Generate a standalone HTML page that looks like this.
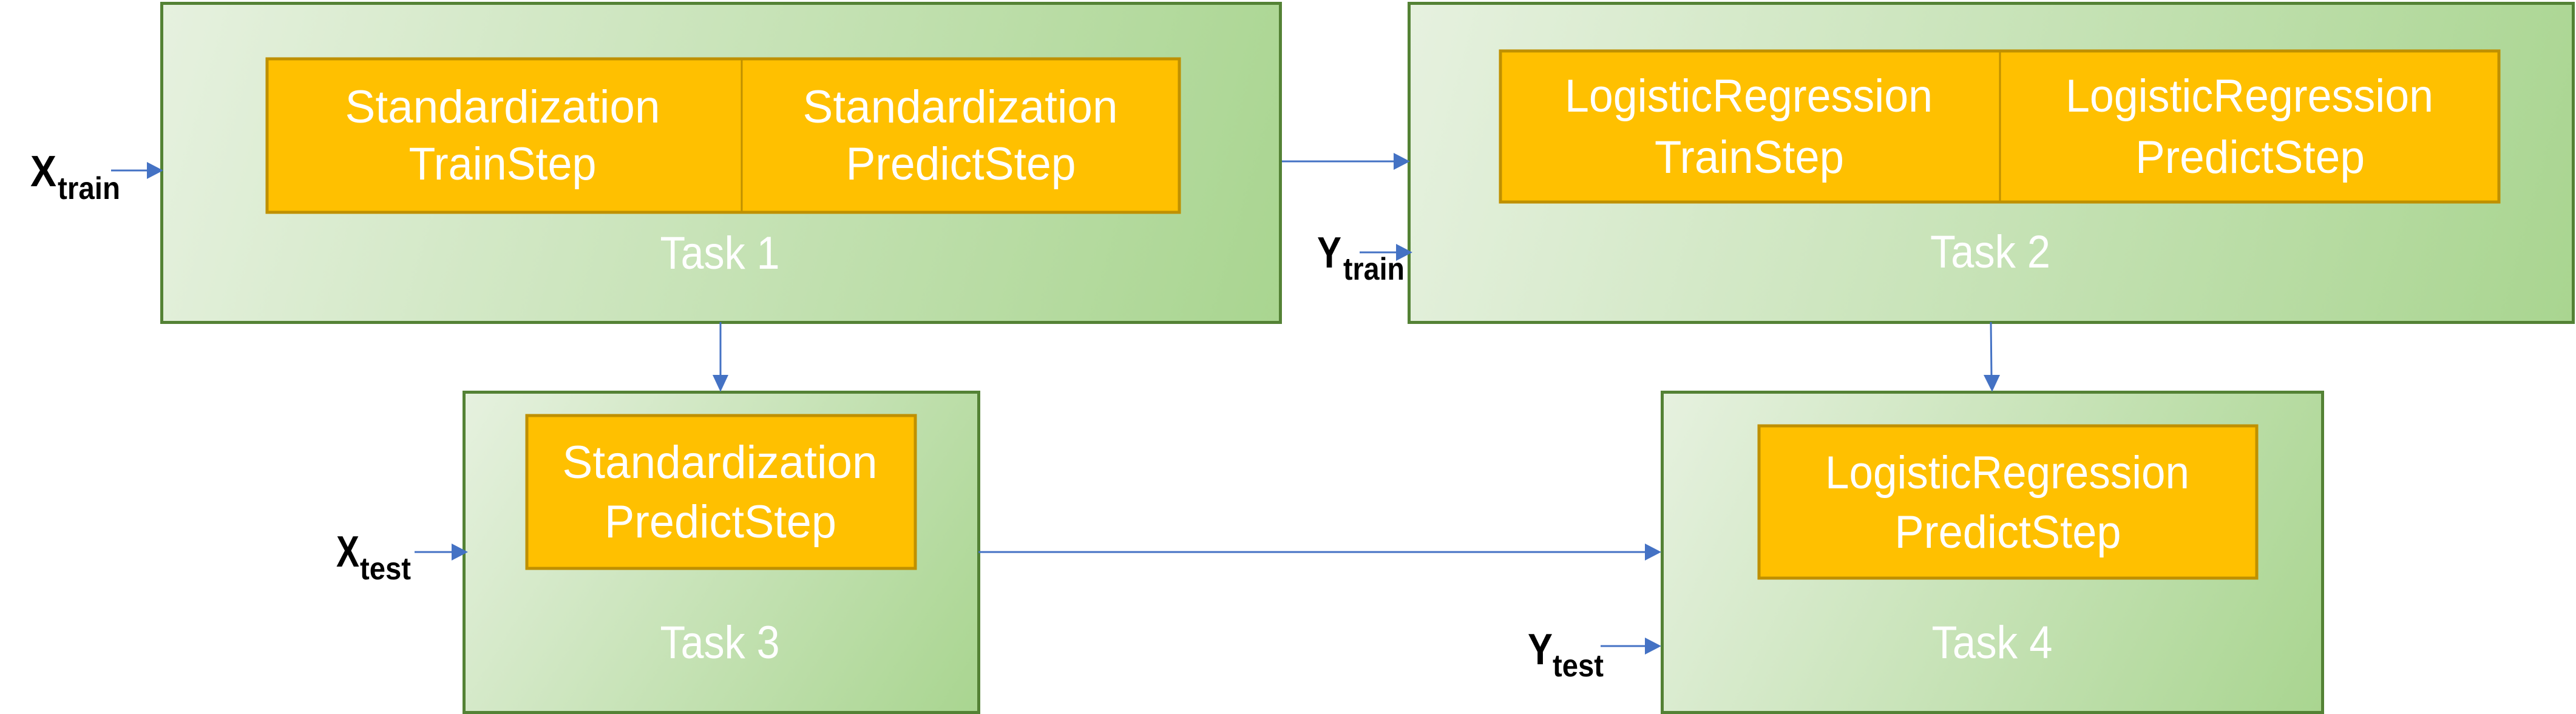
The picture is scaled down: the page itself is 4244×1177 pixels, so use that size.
<!DOCTYPE html>
<html><head><meta charset="utf-8"><style>
html,body{margin:0;padding:0;background:#fff;}
svg{display:block;}
.w{font-family:"Liberation Sans",sans-serif;font-size:76px;fill:#fff;}
.b{font-family:"Liberation Sans",sans-serif;font-weight:bold;fill:#000;}
</style></head><body>
<svg width="4244" height="1177" viewBox="0 0 4244 1177" xmlns="http://www.w3.org/2000/svg">
<defs>
<linearGradient id="g1" gradientUnits="userSpaceOnUse" x1="266" y1="5" x2="2110" y2="531">
<stop offset="0" stop-color="#e6f1df"/><stop offset="1" stop-color="#a9d590"/>
</linearGradient>
<linearGradient id="g2" gradientUnits="userSpaceOnUse" x1="2321" y1="5" x2="4240" y2="531">
<stop offset="0" stop-color="#e6f1df"/><stop offset="1" stop-color="#a9d590"/>
</linearGradient>
<linearGradient id="g3" gradientUnits="userSpaceOnUse" x1="764" y1="646" x2="1612" y2="1175">
<stop offset="0" stop-color="#e6f1df"/><stop offset="1" stop-color="#a9d590"/>
</linearGradient>
<linearGradient id="g4" gradientUnits="userSpaceOnUse" x1="2738" y1="646" x2="3826" y2="1175">
<stop offset="0" stop-color="#e6f1df"/><stop offset="1" stop-color="#a9d590"/>
</linearGradient>
</defs>
<rect x="266.5" y="5.5" width="1843" height="526" fill="url(#g1)" stroke="#548235" stroke-width="5"/>
<rect x="2321.5" y="5.5" width="1918" height="526" fill="url(#g2)" stroke="#548235" stroke-width="5"/>
<rect x="764.5" y="646.5" width="848" height="528" fill="url(#g3)" stroke="#548235" stroke-width="5"/>
<rect x="2738.5" y="646.5" width="1088" height="528" fill="url(#g4)" stroke="#548235" stroke-width="5"/>
<rect x="440" y="97" width="1503" height="253" fill="#ffc000" stroke="#bf9000" stroke-width="5"/>
<line x1="1222" y1="97" x2="1222" y2="350" stroke="#bf9000" stroke-width="3"/>
<rect x="2472" y="84" width="1645" height="249" fill="#ffc000" stroke="#bf9000" stroke-width="5"/>
<line x1="3295" y1="84" x2="3295" y2="333" stroke="#bf9000" stroke-width="3"/>
<rect x="868" y="685" width="640" height="252" fill="#ffc000" stroke="#bf9000" stroke-width="5"/>
<rect x="2898" y="702" width="820" height="251" fill="#ffc000" stroke="#bf9000" stroke-width="5"/>
<g class="w" text-anchor="middle">
<text x="828" y="202" textLength="519" lengthAdjust="spacingAndGlyphs">Standardization</text>
<text x="828" y="296" textLength="309" lengthAdjust="spacingAndGlyphs">TrainStep</text>
<text x="1582" y="202" textLength="519" lengthAdjust="spacingAndGlyphs">Standardization</text>
<text x="1583" y="296" textLength="379" lengthAdjust="spacingAndGlyphs">PredictStep</text>
<text x="1186" y="443" textLength="197" lengthAdjust="spacingAndGlyphs">Task 1</text>
<text x="2881" y="184" textLength="606" lengthAdjust="spacingAndGlyphs">LogisticRegression</text>
<text x="2882" y="285" textLength="312" lengthAdjust="spacingAndGlyphs">TrainStep</text>
<text x="3706" y="184" textLength="606" lengthAdjust="spacingAndGlyphs">LogisticRegression</text>
<text x="3707" y="285" textLength="378" lengthAdjust="spacingAndGlyphs">PredictStep</text>
<text x="3279" y="441" textLength="198" lengthAdjust="spacingAndGlyphs">Task 2</text>
<text x="1186" y="788" textLength="519" lengthAdjust="spacingAndGlyphs">Standardization</text>
<text x="1187" y="886" textLength="382" lengthAdjust="spacingAndGlyphs">PredictStep</text>
<text x="1186" y="1085" textLength="197" lengthAdjust="spacingAndGlyphs">Task 3</text>
<text x="3307" y="805" textLength="600" lengthAdjust="spacingAndGlyphs">LogisticRegression</text>
<text x="3308" y="903" textLength="373" lengthAdjust="spacingAndGlyphs">PredictStep</text>
<text x="3282" y="1085" textLength="199" lengthAdjust="spacingAndGlyphs">Task 4</text>
</g>
<g class="b">
<text x="50" y="307" font-size="72" textLength="43" lengthAdjust="spacingAndGlyphs">X</text>
<text x="95" y="328" font-size="52" textLength="103" lengthAdjust="spacingAndGlyphs">train</text>
<text x="2170" y="441" font-size="72" textLength="40" lengthAdjust="spacingAndGlyphs">Y</text>
<text x="2213" y="461" font-size="52" textLength="101" lengthAdjust="spacingAndGlyphs">train</text>
<text x="554" y="934" font-size="72" textLength="38" lengthAdjust="spacingAndGlyphs">X</text>
<text x="593" y="955" font-size="52" textLength="84" lengthAdjust="spacingAndGlyphs">test</text>
<text x="2517" y="1095" font-size="72" textLength="41" lengthAdjust="spacingAndGlyphs">Y</text>
<text x="2558" y="1115" font-size="52" textLength="84" lengthAdjust="spacingAndGlyphs">test</text>
</g>
<g stroke="#4472c4" stroke-width="3" fill="none">
<line x1="183" y1="281" x2="242" y2="281"/>
<line x1="2112" y1="266" x2="2296" y2="266"/>
<line x1="2240" y1="416" x2="2300" y2="416"/>
<line x1="1187" y1="531" x2="1187" y2="620"/>
<line x1="3280" y1="531" x2="3281" y2="620"/>
<line x1="683" y1="910" x2="744" y2="910"/>
<line x1="1612" y1="910" x2="2712" y2="910"/>
<line x1="2637" y1="1065" x2="2712" y2="1065"/>
</g>
<g fill="#4472c4">
<polygon points="242,267 269,281 242,295"/>
<polygon points="2296,252 2323,266 2296,280"/>
<polygon points="2300,402 2327,416 2300,430"/>
<polygon points="1174,618 1200,618 1187,646"/>
<polygon points="3268,618 3295,618 3282,646"/>
<polygon points="744,896 771,910 744,924"/>
<polygon points="2710,896 2737,910 2710,924"/>
<polygon points="2710,1051 2737,1065 2710,1079"/>
</g>
</svg>
</body></html>
